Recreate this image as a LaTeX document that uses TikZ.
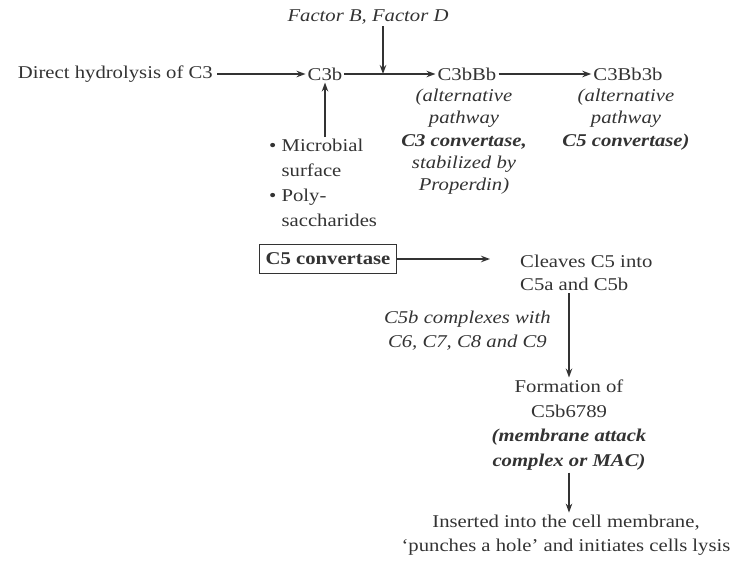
\documentclass[tikz,border=0pt]{standalone}
\usepackage{fontspec}
\setmainfont{Liberation Serif}[FakeStretch=1.15]
\usetikzlibrary{arrows.meta}
\definecolor{ink}{HTML}{333333}
\begin{document}
\fontsize{18pt}{22.5pt}\selectfont
\begin{tikzpicture}[x=1pt,y=-1pt,
  every node/.style={text=ink,inner sep=2pt},
  txt/.style={align=center},
  flow/.style={draw=ink,line width=1.4pt,-{Stealth[length=9pt,width=6.5pt]}},
  boxed/.style={draw=ink,line width=1.3pt,inner xsep=6pt,minimum height=29pt,font=\bfseries}]
\useasboundingbox (0,0) rectangle (734,560);

% top row
\node[font=\itshape] (fac) at (368,17) {Factor B, Factor D};
\node[anchor=east,inner xsep=4pt] (dh) at (217,74) {Direct hydrolysis of C3};
\node (c3b) at (325,74) {C3b};
\node (c3bbb) at (467,74) {C3bBb};
\node (c3bb3b) at (628,74) {C3Bb3b};

\node[txt,anchor=north,font=\fontsize{18pt}{22.3pt}\selectfont] (n1) at (464,87)
  {\itshape(alternative\\\itshape pathway\\\bfseries\itshape C3 convertase,\\\itshape stabilized by\\\itshape Properdin)};
\node[txt,anchor=north,font=\fontsize{18pt}{22.3pt}\selectfont] (n2) at (626,87)
  {\itshape(alternative\\\itshape pathway\\\bfseries\itshape C5 convertase)};

\node[anchor=north west,align=left,font=\fontsize{18pt}{25pt}\selectfont] (mic) at (267,137)
  {\textbullet\ Microbial\\\hphantom{\textbullet\ }surface\\\textbullet\ Poly-\\\hphantom{\textbullet\ }saccharides};

\coordinate (j) at (383,74);
\draw[flow] (dh.east) -- (c3b.west);
\draw[flow] (c3b.east) -- (c3bbb.west);
\draw[flow] (fac.south -| j) -- (j);
\draw[flow] (c3bbb.east) -- (c3bb3b.west);
\draw[flow] (mic.north -| c3b) -- (c3b.south);

% C5 convertase and membrane attack
\node[boxed] (c5c) at (328,259) {C5 convertase};
\node[anchor=west,align=left,font=\fontsize{18pt}{23pt}\selectfont] (clv) at (518,273) {Cleaves C5 into\\C5a and C5b};
\node[txt,anchor=east,font=\itshape\fontsize{18pt}{24pt}\selectfont] (cx) at (553,331) {C5b complexes with\\C6, C7, C8 and C9};
\node[txt,font=\fontsize{18pt}{24.7pt}\selectfont] (mac) at (569,425) {Formation of\\C5b6789\\\bfseries\itshape (membrane attack\\\bfseries\itshape complex or MAC)};
\node[txt,font=\fontsize{18pt}{24pt}\selectfont] (ins) at (566,535) {Inserted into the cell membrane,\\`punches a hole' and initiates cells lysis};

\coordinate (tip) at (490,259);
\draw[flow] (c5c.east) -- (tip);
\draw[flow] (clv.south -| mac) -- (mac.north);
\draw[flow] (mac.south) -- (mac.south |- ins.north);
\end{tikzpicture}
\end{document}
